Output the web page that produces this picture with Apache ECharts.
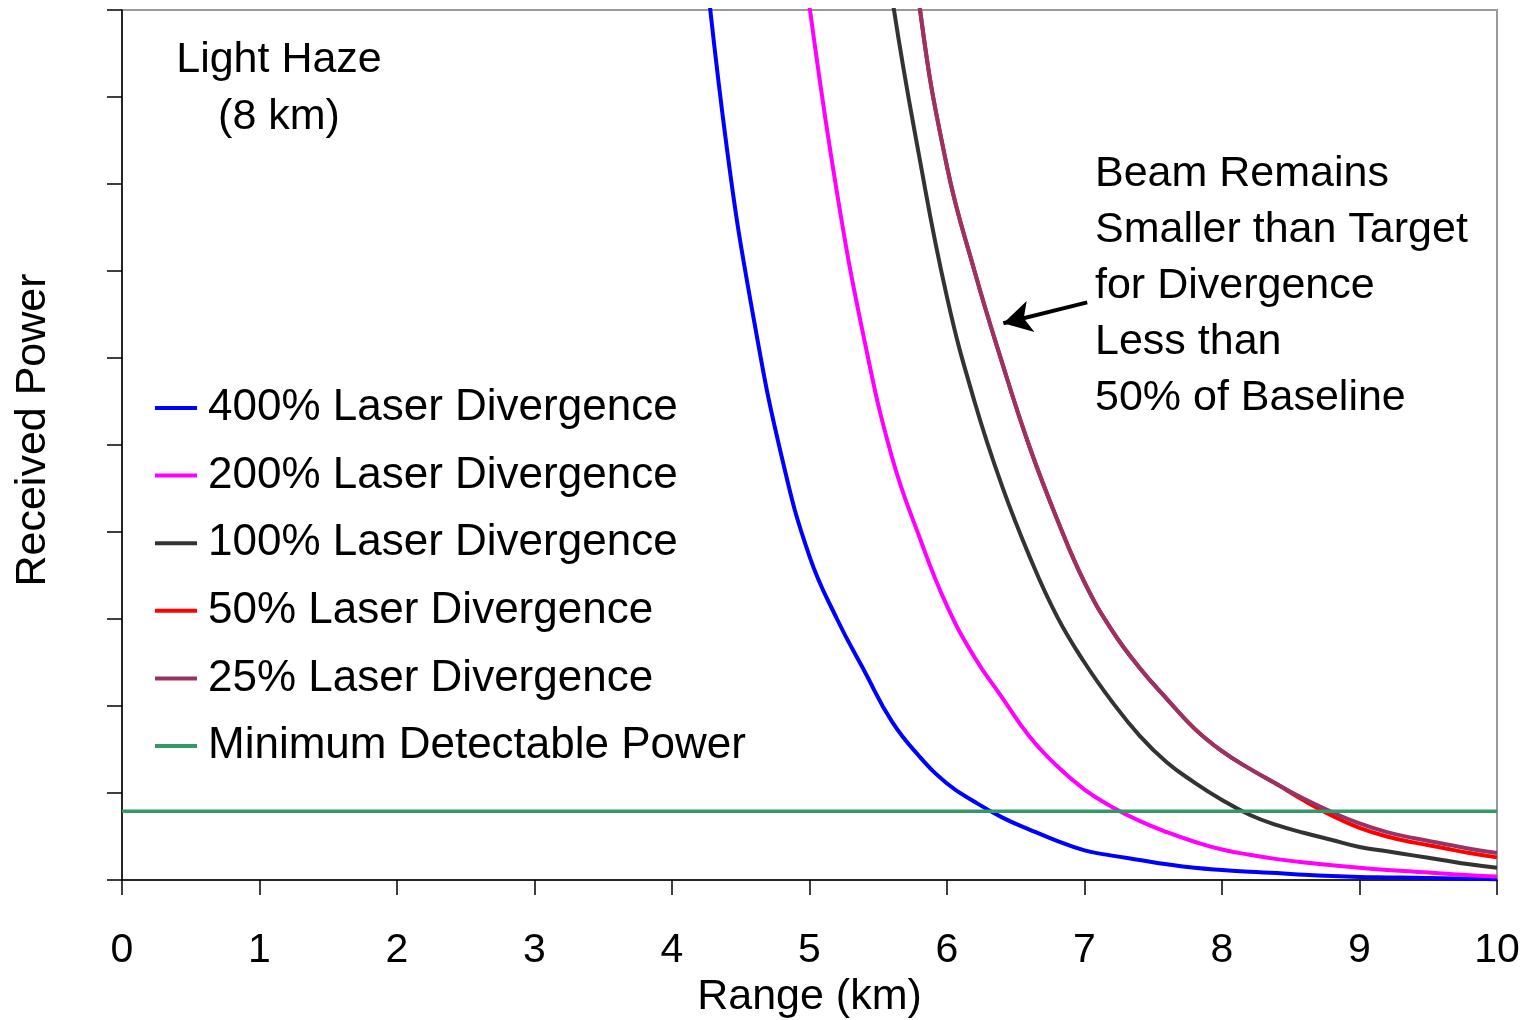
<!DOCTYPE html>
<html>
<head>
<meta charset="utf-8">
<script src="https://cdn.jsdelivr.net/npm/echarts@6/dist/echarts.min.js"></script>
<style>
  html, body { margin: 0; padding: 0; background: #fff; }
  #chart { width: 1527px; height: 1020px; }
</style>
</head>
<body>
<div id="chart"></div>
<script>
// range grid (km) shared by the divergence curves
const rangeKm = [4.2, 4.4, 4.6, 4.8, 5.0, 5.2, 5.4, 5.6, 5.8, 6.0,
  6.2, 6.4, 6.6, 6.8, 7.0, 7.2, 7.4, 7.6, 7.8, 8.0,
  8.2, 8.4, 8.6, 8.8, 9.0, 9.2, 9.4, 9.6, 9.8, 10.0];

// received power (axis 0..100, unlabelled)
const div400 = [112, 84, 64, 48.5, 37.2, 30, 24, 18.2, 14.2, 11.1,
  9.0, 7.2, 5.8, 4.5, 3.4, 2.8, 2.3, 1.8, 1.4, 1.15,
  0.95, 0.8, 0.6, 0.45, 0.35, 0.3, 0.25, 0.2, 0.15, 0.1];
const div200 = [null, null, null, 125, 100.4, 79, 62, 48.6, 39.4, 31.5,
  25.6, 21.0, 16.5, 13.1, 10.4, 8.4, 6.8, 5.5, 4.4, 3.5,
  2.9, 2.4, 2.0, 1.7, 1.4, 1.15, 0.95, 0.75, 0.55, 0.4];
const div100 = [null, null, null, null, null, null, 125, 101.5, 83, 67,
  55, 45.3, 37.2, 30.3, 25.0, 20.5, 16.6, 13.5, 11.2, 9.2,
  7.5, 6.3, 5.4, 4.6, 3.8, 3.3, 2.8, 2.3, 1.8, 1.4];
const div50 = [null, null, null, null, null, null, null, 130, 100.5, 82,
  70, 59.5, 49.8, 41.5, 34.2, 28.7, 24.4, 20.8, 17.4, 14.8,
  12.8, 11.0, 9.1, 7.4, 6.0, 5.0, 4.3, 3.7, 3.1, 2.6];
const div25 = [null, null, null, null, null, null, null, 130, 100.5, 82,
  70, 59.5, 49.8, 41.5, 34.2, 28.7, 24.4, 20.8, 17.4, 14.8,
  12.8, 11.0, 9.3, 7.8, 6.5, 5.5, 4.8, 4.2, 3.6, 3.1];

const minRange = [0, 10];
const minPower = [7.9, 7.9];

const seriesNames = ['400% Laser Divergence', '200% Laser Divergence', '100% Laser Divergence',
  '50% Laser Divergence', '25% Laser Divergence', 'Minimum Detectable Power'];
const seriesColors = ['#0000ff', '#ff00ff', '#333333', '#ff0000', '#993366', '#339966'];

// arrow pointing at the 50% / 25% curves
const arrowFrom = [7.02, 66.4];
const arrowTo = [6.41, 64.0];

const FONT = 'Liberation Sans, Arial, sans-serif';

const pair = (xs, ys) => xs.map((x, i) => [x, ys[i]]);
const curves = [div400, div200, div100, div50, div25];

let series = curves.map((c, idx) => ({
  name: seriesNames[idx],
  type: 'line',
  data: pair(rangeKm, c),
  showSymbol: false,
  smooth: 0.45,
  connectNulls: false,
  lineStyle: { color: seriesColors[idx], width: 4 },
  itemStyle: { color: seriesColors[idx] },
  silent: true
}));

series.push({
  name: seriesNames[5],
  type: 'line',
  data: pair(minRange, minPower),
  showSymbol: false,
  lineStyle: { color: seriesColors[5], width: 3.5 },
  itemStyle: { color: seriesColors[5] },
  silent: true,
  markLine: {
    silent: true,
    animation: false,
    symbol: ['none', 'arrow'],
    symbolSize: [24, 28],
    label: { show: false },
    lineStyle: { color: '#000', width: 4, type: 'solid' },
    data: [[{ coord: arrowFrom }, { coord: arrowTo }]]
  }
});

const myChart = echarts.init(document.getElementById('chart'), null, { renderer: 'canvas' });

const option = {
  animation: false,
  backgroundColor: '#fff',
  grid: {
    left: 122, right: 30, top: 10, bottom: 140,
    outerBoundsMode: 'none',
    containLabel: false,
    show: true, borderColor: '#999', borderWidth: 2, backgroundColor: 'transparent'
  },
  legend: {
    orient: 'vertical',
    left: 155,
    top: 384,
    padding: 0,
    icon: 'rect',
    itemWidth: 42,
    itemHeight: 4,
    itemGap: 19.6,
    data: seriesNames,
    textStyle: { fontSize: 44, fontFamily: FONT, color: '#000', lineHeight: 48, padding: [0, 0, 0, 6] }
  },
  xAxis: {
    type: 'value',
    min: 0, max: 10, interval: 1,
    name: 'Range (km)',
    nameLocation: 'middle',
    nameGap: 96,
    nameTextStyle: { fontSize: 43, fontFamily: FONT, color: '#000' },
    axisLine: { lineStyle: { color: '#000', width: 1.5 } },
    axisTick: { length: 15, lineStyle: { color: '#000', width: 1.5 } },
    axisLabel: { fontSize: 41, fontFamily: FONT, color: '#000', margin: 50 },
    splitLine: { show: false }
  },
  yAxis: {
    type: 'value',
    min: 0, max: 100, interval: 10,
    axisLine: { show: true, lineStyle: { color: '#000', width: 1.5 } },
    axisTick: { show: true, length: 15, lineStyle: { color: '#000', width: 1.5 } },
    axisLabel: { show: false },
    splitLine: { show: false }
  },
  graphic: [
    {
      type: 'text', x: 33, y: 430, rotation: Math.PI / 2,
      style: { text: 'Received Power', fontSize: 43, fontFamily: FONT, fill: '#000', align: 'center', verticalAlign: 'middle' }
    },
    {
      type: 'text', x: 279, y: 32,
      style: { text: 'Light Haze\n(8 km)', fontSize: 43, fontFamily: FONT, fill: '#000', align: 'center', verticalAlign: 'top', lineHeight: 57 }
    },
    {
      type: 'text', x: 1095, y: 146,
      style: {
        text: 'Beam Remains\nSmaller than Target\nfor Divergence\nLess than\n50% of Baseline',
        fontSize: 43, fontFamily: FONT, fill: '#000', align: 'left', verticalAlign: 'top', lineHeight: 56
      }
    }
  ],
  series
};

option && myChart.setOption(option);
</script>
</body>
</html>
